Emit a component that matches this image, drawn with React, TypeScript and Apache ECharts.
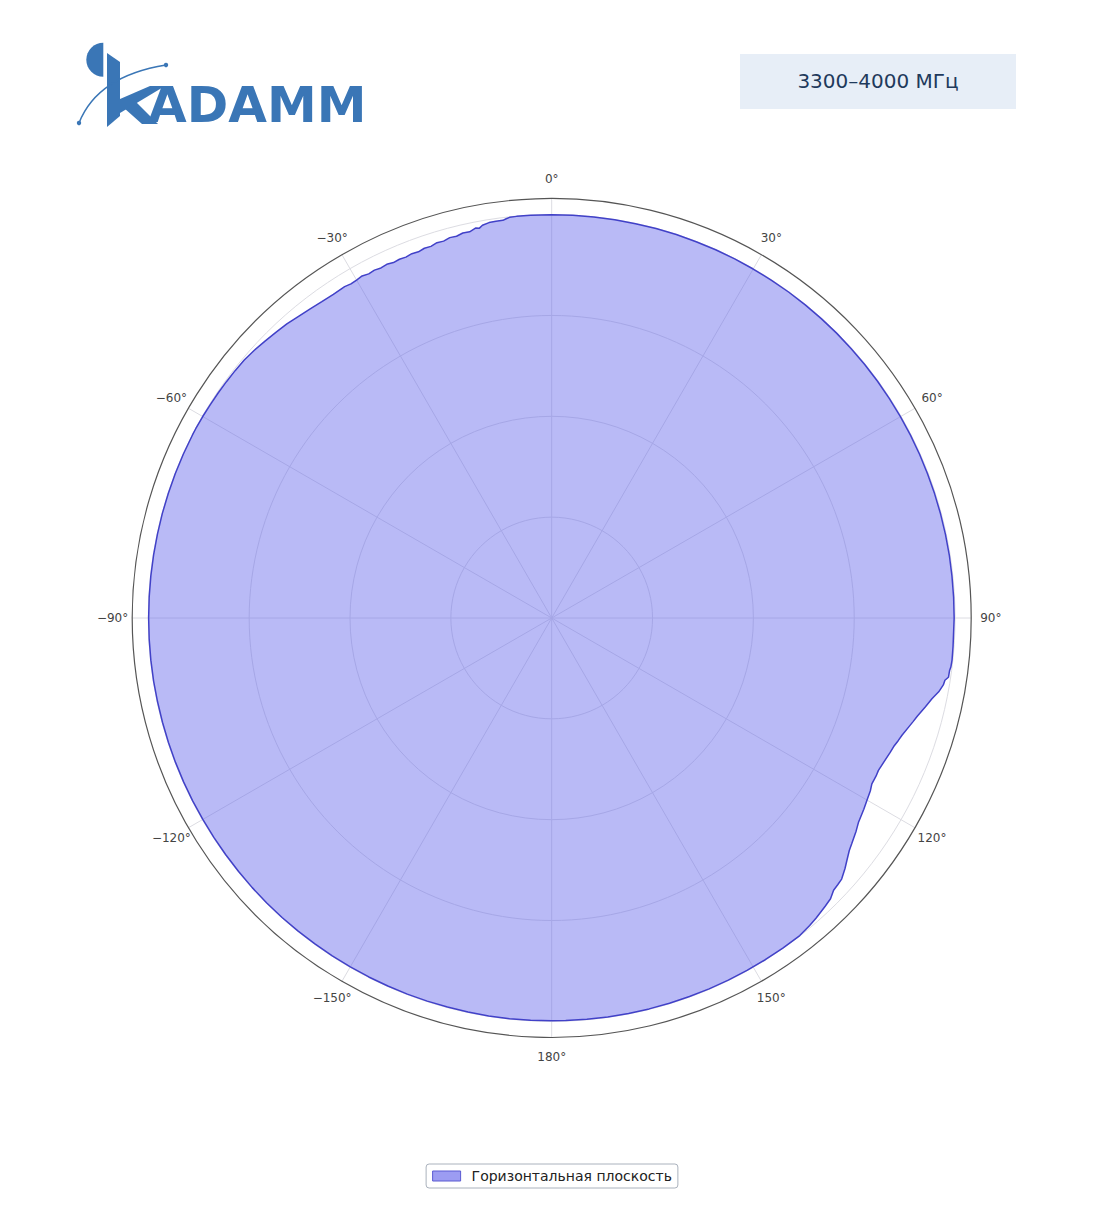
import React, { useEffect, useRef } from 'react';
import * as echarts from 'echarts';

const PATTERN_REAR_LEFT: [number, number][] = [
  [-180, -0.05], [-177, -0.05], [-174, -0.05], [-171, -0.05], [-168, -0.06], [-165, -0.06],
  [-162, -0.05], [-159, -0.05], [-156, -0.05], [-153, -0.05], [-150, -0.06], [-147, -0.05],
  [-144, -0.05], [-141, -0.05], [-138, -0.04], [-135, -0.04], [-132, -0.04], [-129, -0.05],
  [-126, -0.05], [-123, -0.05], [-120, -0.05], [-117, -0.04], [-114, -0.04], [-111, -0.04],
  [-108, -0.04], [-105, -0.04], [-102, -0.04], [-99, -0.03], [-96, -0.03], [-93, -0.03],
  [-90, -0.03], [-87, -0.03], [-84, -0.03], [-81, -0.03], [-78, -0.03], [-75, -0.02],
  [-72, -0.02], [-69, -0.02], [-66, -0.02], [-63, -0.02],
];

const PATTERN_UPPER_LEFT: [number, number][] = [
  [-62, -0.02], [-60, -0.04], [-58, -0.08], [-56, -0.1], [-54, -0.13], [-52, -0.16],
  [-50, -0.2], [-48, -0.32], [-46, -0.48], [-44, -0.62], [-42, -0.75], [-40, -0.95],
  [-38, -1.1], [-36, -1.22], [-34, -1.28], [-32, -1.25], [-31, -1.35], [-30, -1.3],
  [-29, -1.22], [-28, -1.35], [-27, -1.28], [-26, -1.38], [-25, -1.3], [-24, -1.42],
  [-23, -1.35], [-22, -1.4], [-21, -1.3], [-20, -1.36], [-19, -1.22], [-18, -1.25],
  [-17, -1.08], [-16, -1.12], [-15, -0.95], [-14, -0.98], [-13, -0.82], [-12, -0.85],
  [-11, -0.6], [-10.5, -0.68], [-10, -0.45], [-9, -0.3], [-8, -0.27], [-7, -0.27],
  [-6.5, -0.15], [-6, -0.05], [-5, -0.02], [-3, -0.01],
];

const PATTERN_FRONT_RIGHT: [number, number][] = [
  [0, 0], [3, -0.01], [6, -0.01], [9, -0.01], [12, -0.02], [15, -0.02], [18, -0.02],
  [21, -0.03], [24, -0.03], [27, -0.03], [30, -0.04], [33, -0.04], [36, -0.04],
  [39, -0.05], [42, -0.05], [45, -0.05], [48, -0.06], [51, -0.06], [54, -0.06],
  [57, -0.07], [60, -0.07], [63, -0.07], [66, -0.07], [69, -0.08], [72, -0.08],
  [75, -0.08], [78, -0.08], [81, -0.08], [84, -0.09], [87, -0.09], [90, -0.09],
];

const PATTERN_NOTCH: [number, number][] = [
  [92, -0.12], [94, -0.1], [96, -0.08], [97, -0.12], [97.5, -0.2], [98.5, -0.22],
  [99, -0.52], [99.7, -0.6], [100.8, -0.93], [102, -1.45], [103.4, -1.92], [105, -2.45],
  [106, -2.72], [107, -2.99], [108.5, -3.37], [109.5, -3.55], [110.6, -3.77], [111.7, -3.89],
  [113, -4.05], [115, -4.25], [116, -4.22], [117.4, -4.24], [118.5, -4.05], [120, -3.89],
  [121.5, -3.7], [123.6, -3.46], [125, -3.15], [127, -2.76], [128, -2.55], [129.4, -2.12],
  [130.5, -1.75], [132, -1.31], [133, -1.22], [134, -1.14], [135.2, -0.76], [136.5, -0.6],
  [138.6, -0.34], [140, -0.2], [142, -0.04],
];

const PATTERN_REAR_RIGHT: [number, number][] = [
  [145, -0.04], [148, -0.04], [151, -0.05], [154, -0.05], [157, -0.05], [160, -0.05],
  [163, -0.05], [166, -0.05], [169, -0.05], [172, -0.05], [175, -0.05], [178, -0.05],
];

const ANGLE_TICKS = [0, 30, 60, 90, 120, 150, 180, 210, 240, 270, 300, 330];

const RADIUS_MIN = -40;
const RADIUS_MAX = 1.6;
const RADIUS_STEP = 10;
const ANGLE_STEP = 30;
const LABEL_RADIUS = RADIUS_MAX + 1.95; // just outside the outer ring

const SERIES_NAME = 'Горизонтальная плоскость';
const BAND_LABEL = '3300–4000 МГц';
const LOGO_TEXT = 'ADAMM';

const FONT = '"DejaVu Sans", Verdana, sans-serif';
const LOGO_BLUE = '#3a76b6';

function fmtAngle(v: number): string {
  return v <= 180 ? `${v}°` : `−${360 - v}°`;
}

function buildData(): [number, number][] {
  const all = [
    ...PATTERN_REAR_LEFT,
    ...PATTERN_UPPER_LEFT,
    ...PATTERN_FRONT_RIGHT,
    ...PATTERN_NOTCH,
    ...PATTERN_REAR_RIGHT,
  ];
  const pts: [number, number][] = all.map(([a, g]) => [g, (a + 360) % 360]);
  pts.sort((p, q) => p[1] - q[1]);
  pts.push([pts[0][0], 360]);
  return pts;
}

export default function App() {
  const ref = useRef<HTMLDivElement>(null);

  useEffect(() => {
    document.body.style.margin = '0';
    if (!ref.current) return;
    const chart = echarts.init(ref.current, undefined, { renderer: 'svg' });

    const grid = '#dcdce2';
    const option: any = {
      animation: false,
      backgroundColor: '#ffffff',
      polar: { center: [551.7, 618], radius: 419.5 },
      angleAxis: {
        type: 'value',
        min: 0,
        max: 360,
        interval: ANGLE_STEP,
        startAngle: 90,
        clockwise: true,
        axisLine: { show: true, lineStyle: { color: '#555555', width: 1.2 } },
        axisTick: { show: false },
        axisLabel: { show: false },
        splitLine: { show: true, lineStyle: { color: grid, width: 1 } },
      },
      radiusAxis: {
        type: 'value',
        min: RADIUS_MIN,
        max: RADIUS_MAX,
        interval: RADIUS_STEP,
        axisLine: { show: false },
        axisTick: { show: false },
        axisLabel: { show: false },
        splitLine: {
          show: true,
          lineStyle: {
            color: ['rgba(0,0,0,0)', grid, grid, grid, grid, 'rgba(0,0,0,0)'],
            width: 1,
          },
        },
      },
      legend: {
        top: 1164,
        left: 'center',
        icon: 'rect',
        itemWidth: 28,
        itemHeight: 10,
        padding: [5, 6, 5, 6],
        borderColor: '#aab2bd',
        borderWidth: 1,
        borderRadius: 3,
        backgroundColor: '#ffffff',
        textStyle: { fontSize: 14, color: '#222222', fontFamily: FONT, padding: [0, 0, 0, 6] },
        data: [
          {
            name: SERIES_NAME,
            itemStyle: { color: '#9c9cf2', borderColor: '#5a5ad2', borderWidth: 1 },
          },
        ],
      },
      graphic: [
        {
          type: 'rect',
          shape: { x: 740, y: 54, width: 276, height: 55 },
          style: { fill: '#e7eef7' },
        },
        {
          type: 'text',
          x: 878,
          y: 81,
          style: {
            text: BAND_LABEL,
            fill: '#1f3a5c',
            font: `20px ${FONT}`,
            textAlign: 'center',
            textVerticalAlign: 'middle',
          },
        },
        {
          type: 'sector',
          shape: { cx: 103.3, cy: 59.7, r: 17, r0: 0, startAngle: Math.PI / 2, endAngle: (3 * Math.PI) / 2, clockwise: true },
          style: { fill: LOGO_BLUE },
        },
        {
          type: 'polygon',
          shape: { points: [[107, 53], [120, 62], [120, 116], [107, 127]] },
          style: { fill: LOGO_BLUE },
        },
        {
          type: 'polygon',
          shape: { points: [[120, 99], [150, 86], [165, 86], [120, 113]] },
          style: { fill: LOGO_BLUE },
        },
        {
          type: 'polygon',
          shape: { points: [[124, 108], [136, 102], [158, 124], [142, 124]] },
          style: { fill: LOGO_BLUE },
        },
        {
          type: 'bezierCurve',
          shape: { x1: 79, y1: 123, x2: 166, y2: 65, cpx1: 97.5, cpy1: 76 },
          style: { stroke: LOGO_BLUE, lineWidth: 1.5, fill: 'none' },
        },
        { type: 'circle', shape: { cx: 79, cy: 123, r: 2.2 }, style: { fill: LOGO_BLUE } },
        { type: 'circle', shape: { cx: 166, cy: 65, r: 2.2 }, style: { fill: LOGO_BLUE } },
        {
          type: 'text',
          x: 148,
          y: 105,
          style: {
            text: LOGO_TEXT,
            fill: LOGO_BLUE,
            font: `bold 50px ${FONT}`,
            textAlign: 'left',
            textVerticalAlign: 'middle',
          },
        },
      ],
      series: [
        {
          name: SERIES_NAME,
          type: 'line',
          coordinateSystem: 'polar',
          data: buildData(),
          symbol: 'none',
          smooth: false,
          lineStyle: { color: '#4141c8', width: 1.5 },
          itemStyle: { color: '#4141c8' },
          areaStyle: { color: 'rgba(99,102,235,0.45)', opacity: 1, origin: 'start' },
        },
        {
          name: 'angle-labels',
          type: 'custom',
          coordinateSystem: 'polar',
          silent: true,
          clip: false,
          z: 5,
          data: ANGLE_TICKS.map((a) => [LABEL_RADIUS, a]),
          renderItem: (_params: any, api: any) => {
            const ang = api.value(1);
            const p = api.coord([api.value(0), ang]);
            return {
              type: 'text',
              x: p[0],
              y: p[1],
              style: {
                text: fmtAngle(ang),
                fill: '#444444',
                font: `12px ${FONT}`,
                textAlign: 'center',
                textVerticalAlign: 'middle',
              },
            };
          },
        },
      ],
    };

    chart.setOption(option);
    return () => chart.dispose();
  }, []);

  return <div ref={ref} style={{ width: 1104, height: 1211 }} />;
}
